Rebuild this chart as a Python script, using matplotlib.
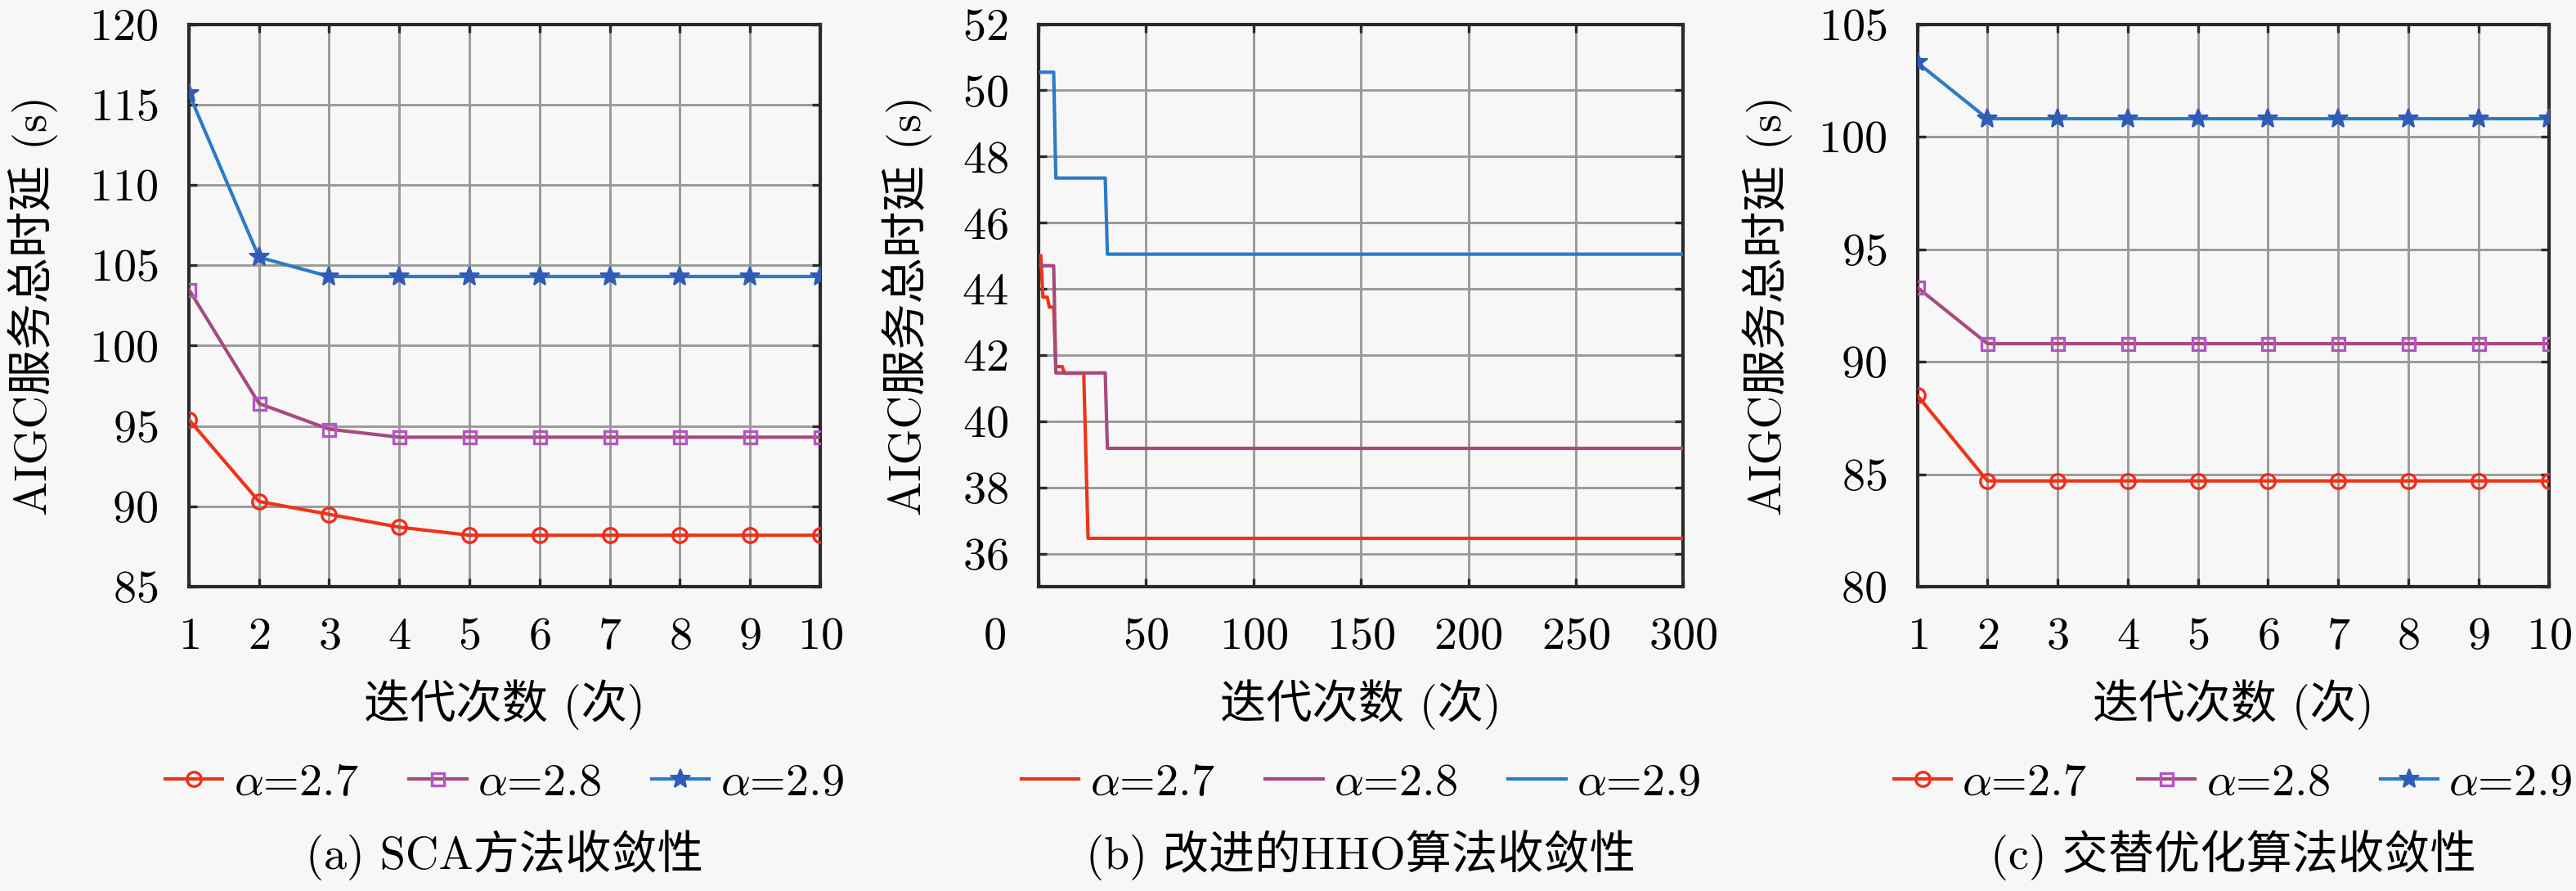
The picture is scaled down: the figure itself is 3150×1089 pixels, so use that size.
import matplotlib
matplotlib.use("Agg")
import matplotlib.pyplot as plt
import matplotlib.transforms as mtransforms

plt.rcParams['font.family'] = ['cmr10', 'Noto Sans CJK SC']
plt.rcParams['mathtext.fontset'] = 'cm'
plt.rcParams['axes.formatter.use_mathtext'] = True
plt.rcParams['axes.unicode_minus'] = False

# ---------------- data ----------------
iters = [1, 2, 3, 4, 5, 6, 7, 8, 9, 10]
labels = [r'$\alpha$=2.7', r'$\alpha$=2.8', r'$\alpha$=2.9']

sca_27 = [95.4, 90.3, 89.5, 88.7, 88.2, 88.2, 88.2, 88.2, 88.2, 88.2]
sca_28 = [103.5, 96.4, 94.8, 94.3, 94.3, 94.3, 94.3, 94.3, 94.3, 94.3]
sca_29 = [115.7, 105.5, 104.3, 104.3, 104.3, 104.3, 104.3, 104.3, 104.3, 104.3]

# HHO best-so-far curves given by their change points (iteration, value)
hho_27_x = [1, 2, 4, 5, 7, 8, 11, 12, 21, 23, 300]
hho_27_y = [45.0, 43.75, 43.75, 43.45, 43.45, 41.65, 41.65, 41.45, 41.45, 36.46, 36.46]
hho_28_x = [1, 7, 8, 31, 32, 300]
hho_28_y = [44.7, 44.7, 41.46, 41.46, 39.18, 39.18]
hho_29_x = [1, 7, 8, 31, 32, 300]
hho_29_y = [50.55, 50.55, 47.35, 47.35, 45.05, 45.05]

alt_27 = [88.5, 84.7, 84.7, 84.7, 84.7, 84.7, 84.7, 84.7, 84.7, 84.7]
alt_28 = [93.3, 90.8, 90.8, 90.8, 90.8, 90.8, 90.8, 90.8, 90.8, 90.8]
alt_29 = [103.3, 100.8, 100.8, 100.8, 100.8, 100.8, 100.8, 100.8, 100.8, 100.8]

a_yticks = [85, 90, 95, 100, 105, 110, 115, 120]
b_yticks = [36, 38, 40, 42, 44, 46, 48, 50, 52]
b_xticks = [0, 50, 100, 150, 200, 250, 300]
c_yticks = [80, 85, 90, 95, 100, 105]

ylabel = 'AIGC服务总时延 (s)'
xlabel = '迭代次数 (次)'
captions = ['(a) SCA方法收敛性', '(b) 改进的HHO算法收敛性', '(c) 交替优化算法收敛性']

# ---------------- style ----------------
BG = '#f7f7f7'
red_line, red_mk = '#ee3418', '#f42a1a'
pur_line, pur_mk = '#a64a7e', '#b455c4'
blu_line, blu_mk = '#2a7bc8', '#2f5cb6'
FS = 13.5

fig = plt.figure(figsize=(10.5, 3.63), dpi=300, facecolor=BG)

rects = [
    [0.0733, 0.3416, 0.2451, 0.6312],
    [0.4032, 0.3416, 0.2502, 0.6312],
    [0.7443, 0.3416, 0.2451, 0.6312],
]
ylabel_x = [-0.247, -0.204, -0.237]
axes = [fig.add_axes(r, facecolor=BG) for r in rects]


def style(ax, i):
    ax.grid(True, color='#9a9a9a', linewidth=0.7)
    ax.set_axisbelow(True)
    for s in ax.spines.values():
        s.set_color('#2a2a2a')
        s.set_linewidth(1.0)
    ax.tick_params(direction='in', length=2.5, width=0.8, color='#2a2a2a',
                   top=True, right=True, labelsize=FS, pad=9)
    ax.set_ylabel(ylabel, fontsize=FS, va='center')
    ax.yaxis.set_label_coords(ylabel_x[i], 0.5)
    ax.set_xlabel(xlabel, fontsize=FS, va='center')
    ax.xaxis.set_label_coords(0.5, -0.21)
    ax.text(0.5, -0.477, captions[i], transform=ax.transAxes, ha='center',
            va='center', fontsize=FS)


def legend(ax):
    ax.legend(loc='center', bbox_to_anchor=(0.5, -0.350), ncol=3, frameon=False,
              fontsize=FS, handlelength=1.25, handletextpad=0.24,
              columnspacing=1.1, numpoints=1, borderaxespad=0, borderpad=0)


def marker_lines(ax, ys):
    ax.plot(iters, ys[0], color=red_line, lw=1.0, marker='o', ms=4.2,
            mfc='none', mec=red_mk, mew=0.8, label=labels[0], zorder=3)
    ax.plot(iters, ys[1], color=pur_line, lw=1.0, marker='s', ms=3.6,
            mfc='none', mec=pur_mk, mew=0.8, label=labels[1], zorder=3)
    ax.plot(iters, ys[2], color=blu_line, lw=1.0, marker='*', ms=6.0,
            mfc=blu_mk, mec=blu_mk, mew=0.5, label=labels[2], zorder=3)


# (a)
ax = axes[0]
marker_lines(ax, [sca_27, sca_28, sca_29])
ax.set_xlim(1, 10)
ax.set_ylim(85, 120)
ax.set_xticks(iters)
ax.set_yticks(a_yticks)
style(ax, 0)
legend(ax)

# (b)
ax = axes[1]
ax.plot(hho_27_x, hho_27_y, color=red_line, lw=1.0, label=labels[0], zorder=3)
ax.plot(hho_28_x, hho_28_y, color=pur_line, lw=1.0, label=labels[1], zorder=3)
ax.plot(hho_29_x, hho_29_y, color=blu_line, lw=1.0, label=labels[2], zorder=3)
ax.set_xlim(0, 300)
ax.set_ylim(35, 52)
ax.set_xticks(b_xticks)
ax.set_yticks(b_yticks)
style(ax, 1)
legend(ax)
fig.canvas.draw()
lbl0 = ax.get_xticklabels()[0]
lbl0.set_transform(lbl0.get_transform() +
                   mtransforms.ScaledTranslation(-54 / 300, 0, fig.dpi_scale_trans))

# (c)
ax = axes[2]
marker_lines(ax, [alt_27, alt_28, alt_29])
ax.set_xlim(1, 10)
ax.set_ylim(80, 105)
ax.set_xticks(iters)
ax.set_yticks(c_yticks)
style(ax, 2)
legend(ax)

fig.savefig('out.png', dpi=300, facecolor=BG)
